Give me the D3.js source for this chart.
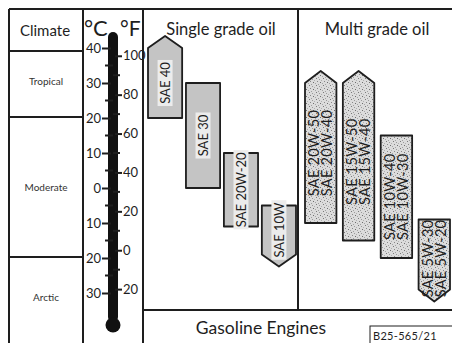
<!DOCTYPE html>
<html>
<head>
<meta charset="utf-8">
<script src="https://cdn.jsdelivr.net/npm/d3@7"></script>
<style>
  html, body { margin: 0; padding: 0; background: #fff; }
  svg { display: block; font-family: "Lato", "Open Sans", sans-serif; }
</style>
</head>
<body>
<svg id="chart" width="452" height="343"></svg>
<script>
// Climate bands (Celsius limits)
const climates = ["Tropical", "Moderate", "Arctic"];
const climateLimits = [[20, 45], [-20, 20], [-45, -20]];

// Thermometer scale ticks
const celsiusTicks = [40, 30, 20, 10, 0, -10, -20, -30];
const fahrenheitTicks = [100, 80, 60, 40, 20, 0, -20];

// Single grade oils: temperature range in °C, open end marked with an arrow
const singleGrades = ["SAE 40", "SAE 30", "SAE 20W-20", "SAE 10W"];
const singleLow  = [20, 0, -11, -19];
const singleHigh = [40, 30, 10, -5];
const singleOpen = ["up", "none", "none", "down"];

// Multi grade oils
const multiGrades = [["SAE 20W-50", "SAE 20W-40"], ["SAE 15W-50", "SAE 15W-40"],
                     ["SAE 10W-40", "SAE 10W-30"], ["SAE 5W-30", "SAE 5W-20"]];
const multiLow  = [-10, -15, -20, -29];
const multiHigh = [30, 30, 15, -9];
const multiOpen = ["up", "up", "none", "down"];

const svg = d3.select("#chart");
const ink = "#1e1e1e";

// Temperature scale (°C -> y)
const y = d3.scaleLinear().domain([-30, 40]).range([293, 48]);
const fToC = f => (f - 32) * 5 / 9;

// stipple pattern for multi grade bars
const defs = svg.append("defs");
const pat = defs.append("pattern").attr("id", "stipple")
  .attr("width", 7).attr("height", 7).attr("patternUnits", "userSpaceOnUse");
pat.append("rect").attr("width", 7).attr("height", 7).attr("fill", "#dcdcdc");
[[1,1,"#7a7a7a"],[4,2,"#9a9a9a"],[2,4,"#888"],[5,5,"#6e6e6e"],[0,6,"#a5a5a5"],[6,3,"#b0b0b0"],[3,0,"#a0a0a0"]]
  .forEach(([px, py, c]) => pat.append("rect").attr("x", px).attr("y", py)
    .attr("width", 1).attr("height", 1).attr("fill", c));

// ---- frame ----
const lines = [
  [9, 9, 452, 9],      // top border
  [9, 9, 9, 343],      // left border
  [83, 9, 83, 343],    // climate column
  [143, 9, 143, 343],  // thermometer column
  [298, 9, 298, 310],  // single / multi divider
  [143, 310, 452, 310],// footer line
  [9, 51, 83, 51]      // header line
];
svg.append("g").selectAll("line").data(lines).join("line")
  .attr("x1", d => d[0]).attr("y1", d => d[1]).attr("x2", d => d[2]).attr("y2", d => d[3])
  .attr("stroke", ink).attr("stroke-width", 2);

// climate band boundaries
svg.append("g").selectAll("line").data([20, -20]).join("line")
  .attr("x1", 9).attr("x2", 83)
  .attr("y1", d => y(d) - 1).attr("y2", d => y(d) - 1)
  .attr("stroke", ink).attr("stroke-width", 2);

svg.append("text").attr("x", 45).attr("y", 36).attr("text-anchor", "middle")
  .attr("font-size", 15).attr("fill", ink).text("Climate");

const bandCenters = [85, 191, 301];
svg.append("g").selectAll("text").data(climates).join("text")
  .attr("x", 46).attr("y", (d, i) => bandCenters[i])
  .attr("text-anchor", "middle").attr("font-size", 10).attr("fill", "#333")
  .text(d => d);

// ---- thermometer ----
svg.append("text").attr("x", 84).attr("y", 36).attr("font-size", 22).attr("fill", ink).text("°C");
svg.append("text").attr("x", 120).attr("y", 36).attr("font-size", 21).attr("fill", ink).text("°F");

const tubeX = 113;
svg.append("rect").attr("x", tubeX - 5).attr("y", 32).attr("width", 10).attr("height", 290)
  .attr("rx", 5).attr("fill", "#111");
svg.append("circle").attr("cx", tubeX).attr("cy", 325).attr("r", 7.5).attr("fill", "#111");

// Celsius axis on the left of the tube
const cAxis = d3.axisLeft(y).tickValues(celsiusTicks)
  .tickFormat(d => Math.abs(d)).tickSize(9).tickPadding(1);
const cg = svg.append("g").attr("transform", `translate(${tubeX - 2},0)`).call(cAxis);
cg.select(".domain").remove();
cg.selectAll("line").attr("stroke", ink).attr("stroke-width", 2);
cg.selectAll("text").attr("font-size", 13).attr("fill", ink).attr("font-family", "Lato, sans-serif");
// Celsius minor ticks
svg.append("g").selectAll("line").data(d3.range(-25, 40, 10)).join("line")
  .attr("x1", tubeX - 8).attr("x2", tubeX)
  .attr("y1", d => y(d)).attr("y2", d => y(d))
  .attr("stroke", ink).attr("stroke-width", 2);

// Fahrenheit axis on the right of the tube
const fScale = d3.scaleLinear().domain([-22, 230])
  .range([y(fToC(-22)), y(fToC(230))]);
const fAxis = d3.axisRight(fScale).tickValues(fahrenheitTicks)
  .tickFormat(d => Math.abs(d)).tickSize(7).tickPadding(1);
const fg = svg.append("g").attr("transform", `translate(${tubeX + 2},0)`).call(fAxis);
fg.select(".domain").remove();
fg.selectAll("line").attr("stroke", ink).attr("stroke-width", 2);
fg.selectAll("text").attr("font-size", 13).attr("fill", ink).attr("font-family", "Lato, sans-serif");
svg.append("g").selectAll("line").data(d3.range(-10, 100, 20)).join("line")
  .attr("x1", tubeX).attr("x2", tubeX + 7)
  .attr("y1", d => fScale(d)).attr("y2", d => fScale(d))
  .attr("stroke", ink).attr("stroke-width", 2);

// ---- oil bars ----
const tip = 12;
function barPath(x0, x1, lo, hi, open) {
  const xm = (x0 + x1) / 2, yt = y(hi), yb = y(lo);
  if (open === "up")
    return `M${x0},${yb}L${x0},${yt}L${xm},${yt - tip}L${x1},${yt}L${x1},${yb}Z`;
  if (open === "down")
    return `M${x0},${yt}L${x0},${yb}L${xm},${yb + tip}L${x1},${yb}L${x1},${yt}Z`;
  return `M${x0},${yt}L${x1},${yt}L${x1},${yb}L${x0},${yb}Z`;
}

// column positions
const singleX = d3.scaleBand().domain(singleGrades).range([148, 296]).paddingInner(0.1);
const multiX = d3.scaleBand().domain(multiGrades.map(d => d[0])).range([305, 450]).paddingInner(0.17);

svg.append("text").attr("x", 221).attr("y", 35).attr("text-anchor", "middle")
  .attr("font-size", 16.5).attr("fill", ink).text("Single grade oil");
svg.append("text").attr("x", 377).attr("y", 35).attr("text-anchor", "middle")
  .attr("font-size", 16.5).attr("fill", ink).text("Multi grade oil");

const sg = svg.append("g").selectAll("g").data(singleGrades).join("g");
sg.append("path")
  .attr("d", (d, i) => barPath(singleX(d), singleX(d) + singleX.bandwidth(), singleLow[i], singleHigh[i], singleOpen[i]))
  .attr("fill", "#c4c4c4").attr("stroke", ink).attr("stroke-width", 1.8).attr("stroke-linejoin", "round");
sg.each(function (d, i) {
  const g = d3.select(this);
  const cx = singleX(d) + singleX.bandwidth() / 2;
  const cy = (y(singleLow[i]) + y(singleHigh[i])) / 2;
  const t = g.append("text").attr("transform", `translate(${cx + 5},${cy}) rotate(-90)`)
    .attr("text-anchor", "middle").attr("font-size", 13).attr("fill", ink).text(d);
  const bb = t.node().getBBox();
  g.insert("rect", "text")
    .attr("x", cx - 7.5).attr("y", cy - bb.width / 2 - 2)
    .attr("width", 15).attr("height", bb.width + 4).attr("fill", "#ececec");
});

const mg = svg.append("g").selectAll("g").data(multiGrades).join("g");
mg.append("path")
  .attr("d", (d, i) => barPath(multiX(d[0]), multiX(d[0]) + multiX.bandwidth(), multiLow[i], multiHigh[i], multiOpen[i]))
  .attr("fill", "url(#stipple)").attr("stroke", ink).attr("stroke-width", 1.8).attr("stroke-linejoin", "round");
mg.each(function (d, i) {
  const g = d3.select(this);
  const cx = multiX(d[0]) + multiX.bandwidth() / 2;
  const cy = (y(multiLow[i]) + y(multiHigh[i])) / 2 + (multiOpen[i] === "down" ? 4 : 0);
  d.forEach((label, k) => {
    g.append("text")
      .attr("transform", `translate(${cx - 1.5 + k * 13},${cy}) rotate(-90)`)
      .attr("text-anchor", "middle")
      .attr("font-size", 14.5).attr("letter-spacing", 0.3)
      .attr("fill", ink).text(label);
  });
});

// ---- footer ----
svg.append("text").attr("x", 261).attr("y", 334).attr("text-anchor", "middle")
  .attr("font-size", 17.5).attr("fill", ink).text("Gasoline Engines");
svg.append("rect").attr("x", 370).attr("y", 326).attr("width", 84).attr("height", 20)
  .attr("fill", "#fff").attr("stroke", ink).attr("stroke-width", 1);
svg.append("text").attr("x", 373).attr("y", 340).attr("font-size", 11)
  .attr("letter-spacing", 0.3).attr("fill", ink).text("B25-565/21");
</script>
</body>
</html>
